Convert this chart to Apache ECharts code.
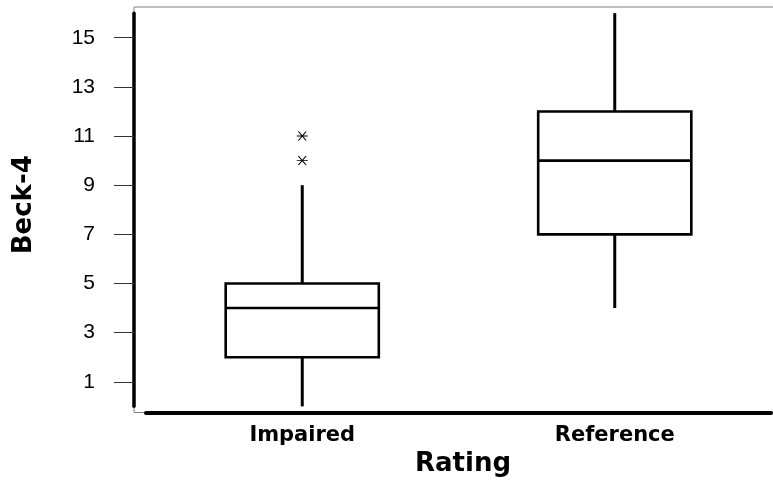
<!DOCTYPE html>
<html>
<head>
<meta charset="utf-8">
<script src="https://cdn.jsdelivr.net/npm/echarts@6/dist/echarts.min.js"></script>
<style>
html,body{margin:0;padding:0;background:#fff;}
#chart{width:773px;height:485px;}
</style>
</head>
<body>
<div id="chart"></div>
<script>
// ---- data ----
var categories = ['Impaired', 'Reference'];
// [min whisker, Q1, median, Q3, max whisker]
var impairedBox = [0, 2, 4, 5, 9];
var referenceBox = [4, 7, 10, 12, 16];
var impairedOutliers = [11, 10];
var yTickValues = [1, 3, 5, 7, 9, 11, 13, 15];

var boxes = [impairedBox, referenceBox];
var boxData = boxes.map(function (b, i) { return [i].concat(b); });
var outlierData = impairedOutliers.map(function (v) { return [0, v]; });

var chart = echarts.init(document.getElementById('chart'));

var H = 485;
var frameTop = 7, frameBottom = 412.5;
var yMinA = -0.25, yMaxA = 16.25;
var ppu = (frameBottom - frameTop) / (yMaxA - yMinA);
var bTop = frameTop + (yMaxA - 16) * ppu;
var bBottom = frameBottom - (0 - yMinA) * ppu;

var option = {
  backgroundColor: '#fff',
  animation: false,
  grid: [
    { left: 146, right: 2, top: frameTop, bottom: H - frameBottom, outerBoundsMode: 'none' },
    { left: 134, width: 10, top: bTop, bottom: H - bBottom, outerBoundsMode: 'none' },
    { left: 134, width: 680, top: frameTop, bottom: H - frameBottom, outerBoundsMode: 'none', show: true, borderColor: '#808080', borderWidth: 1, backgroundColor: 'transparent' }
  ],
  xAxis: [
    {
      gridIndex: 0, type: 'category', data: categories, boundaryGap: true,
      axisLine: { onZero: false, lineStyle: { color: '#000', width: 4 } },
      axisTick: { alignWithLabel: true, length: 9, lineStyle: { color: '#000', width: 1 } },
      axisLabel: { margin: 13, fontSize: 21, fontWeight: 'bold', color: '#000', fontFamily: 'DejaVu Sans' },
      splitLine: { show: false },
      name: 'Rating', nameLocation: 'middle', nameGap: 37,
      nameTextStyle: { fontSize: 26, fontWeight: 'bold', color: '#000', fontFamily: 'DejaVu Sans', padding: [0, 0, 0, 9] }
    },
    { gridIndex: 1, type: 'value', show: false },
    { gridIndex: 2, type: 'value', show: false }
  ],
  yAxis: [
    { gridIndex: 0, type: 'value', min: yMinA, max: yMaxA, show: false, splitLine: { show: false } },
    {
      gridIndex: 1, type: 'value', min: 0, max: 16, position: 'left',
      axisLine: { show: true, onZero: false, lineStyle: { color: '#000', width: 3.5 } },
      axisTick: { show: true, customValues: yTickValues, length: 20, lineStyle: { color: '#333', width: 1 } },
      axisLabel: { customValues: yTickValues, margin: 39, fontSize: 21, color: '#000', fontFamily: 'Liberation Sans' },
      splitLine: { show: false },
      name: 'Beck-4', nameLocation: 'middle', nameGap: 97, nameRotate: 90,
      nameTextStyle: { fontSize: 26, fontWeight: 'bold', color: '#000', fontFamily: 'DejaVu Sans', padding: [0, 0, 0, 10] }
    },
    { gridIndex: 2, type: 'value', show: false }
  ],
  series: [
    {
      type: 'custom', xAxisIndex: 0, yAxisIndex: 0,
      data: boxData,
      encode: { x: 0, y: [1, 2, 3, 4, 5] },
      renderItem: function (params, api) {
        var x = api.value(0);
        var lo = api.coord([x, api.value(1)]);
        var q1 = api.coord([x, api.value(2)]);
        var med = api.coord([x, api.value(3)]);
        var q3 = api.coord([x, api.value(4)]);
        var hi = api.coord([x, api.value(5)]);
        var half = api.size([1, 0])[0] * 0.49 / 2;
        var cx = q1[0];
        var ls = { stroke: '#000', lineWidth: 3, fill: null };
        return {
          type: 'group',
          children: [
            { type: 'line', shape: { x1: cx, y1: lo[1], x2: cx, y2: q1[1] }, style: ls },
            { type: 'line', shape: { x1: cx, y1: q3[1], x2: cx, y2: hi[1] }, style: ls },
            { type: 'rect', shape: { x: cx - half, y: q3[1], width: half * 2, height: q1[1] - q3[1] }, style: { fill: '#fff', stroke: '#000', lineWidth: 2.6 } },
            { type: 'line', shape: { x1: cx - half, y1: med[1], x2: cx + half, y2: med[1] }, style: { stroke: '#000', lineWidth: 2.6 } }
          ]
        };
      },
      z: 3
    },
    {
      type: 'scatter', xAxisIndex: 0, yAxisIndex: 0,
      data: outlierData,
      symbol: 'path://M0,4L10,4M1.5,0L8.5,8M8.5,0L1.5,8',
      symbolSize: [11, 9],
      itemStyle: { color: 'transparent', borderColor: '#000', borderWidth: 1, opacity: 1 },
      z: 4
    }
  ]
};
chart.setOption(option);
</script>
</body>
</html>
